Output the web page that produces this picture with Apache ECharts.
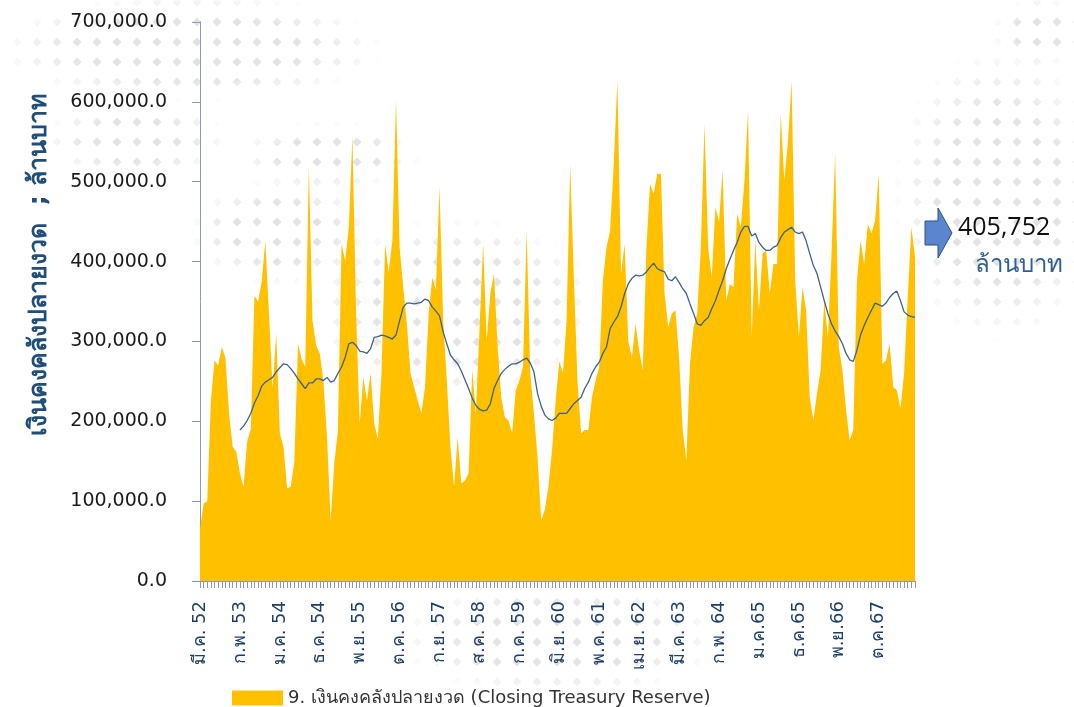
<!DOCTYPE html>
<html lang="th">
<head>
<meta charset="utf-8">
<title>เงินคงคลังปลายงวด</title>
<script src="https://cdn.jsdelivr.net/npm/echarts@6/dist/echarts.min.js"></script>
<style>
  html, body { margin: 0; padding: 0; background: #fff; }
  .wrap { position: relative; width: 1074px; height: 707px; }
  /* ลายจุดข้าวหลามตัดจาง ๆ ด้านหลัง */
  .dots {
    position: absolute; left: 0; top: 0; width: 1074px; height: 707px;
    background-image: url("data:image/svg+xml,%3Csvg xmlns='http://www.w3.org/2000/svg' width='20' height='20'%3E%3Cpolygon points='10,5.5 14.5,10 10,14.5 5.5,10' fill='%23E3E3E3'/%3E%3C/svg%3E");
    background-position: 7px -8px;
    --m1: radial-gradient(ellipse 200px 55px at 190px 48px, #000 55%, transparent 100%);
    --m2: radial-gradient(ellipse 95px 40px at 135px 140px, #000 50%, transparent 100%);
    --m3: radial-gradient(ellipse 95px 35px at 330px 155px, #000 50%, transparent 100%);
    --m4: radial-gradient(ellipse 95px 55px at 280px 232px, #000 50%, transparent 100%);
    --m5: radial-gradient(ellipse 150px 95px at 455px 310px, #000 55%, transparent 100%);
    --m6: radial-gradient(ellipse 170px 60px at 560px 638px, #000 50%, transparent 100%);
    --m7: radial-gradient(ellipse 110px 150px at 1000px 195px, #000 55%, transparent 100%);
    --m8: radial-gradient(ellipse 50px 35px at 1040px 32px, #000 50%, transparent 100%);
    -webkit-mask-image: var(--m1), var(--m2), var(--m3), var(--m4), var(--m5), var(--m6), var(--m7), var(--m8);
    mask-image: var(--m1), var(--m2), var(--m3), var(--m4), var(--m5), var(--m6), var(--m7), var(--m8);
  }
  #chart { position: absolute; left: 0; top: 0; width: 1074px; height: 707px; }
</style>
</head>
<body>
<div class="wrap">
  <div class="dots"></div>
  <div id="chart"></div>
</div>
<script>
// เดือน มี.ค. 52 ถึง ส.ค. 68 (รายเดือน)
const thaiMonths = ['ม.ค.', 'ก.พ.', 'มี.ค.', 'เม.ย.', 'พ.ค.', 'มิ.ย.', 'ก.ค.', 'ส.ค.', 'ก.ย.', 'ต.ค.', 'พ.ย.', 'ธ.ค.'];
const startMonth = 2;   // มี.ค.
const startYear = 52;
const monthCount = 198;

// ป้ายแกน x ที่แสดง (ทุก 11 เดือน)
const tickLabels = [
  'มี.ค. 52', 'ก.พ. 53', 'ม.ค. 54', 'ธ.ค. 54', 'พ.ย. 55', 'ต.ค. 56', 'ก.ย. 57', 'ส.ค. 58', 'ก.ค. 59',
  'มิ.ย. 60', 'พ.ค. 61', 'เม.ย. 62', 'มี.ค. 63', 'ก.พ. 64', 'ม.ค.65', 'ธ.ค.65', 'พ.ย.66', 'ต.ค.67'
];
const tickStep = 11;

// เงินคงคลังปลายงวด (ล้านบาท)
const closingReserve = [
  65000, 97000, 100000, 225000, 276000, 270000, 293000, 280000, 210000, 168000, 162000, 135000,
  118000, 175000, 190000, 357000, 350000, 375000, 426000, 335000, 241000, 310000, 185000, 168000,
  116000, 118000, 150000, 297000, 278000, 268000, 520000, 326000, 295000,
  285000, 250000, 180000, 76000, 147000, 189000, 422000, 401000, 443000, 557000, 335000, 197000,
  255000, 226000, 260000, 197000, 178000, 260000, 422000, 387000, 426000, 603000, 418000, 368000,
  322000, 260000, 243000, 226000, 210000, 243000, 335000, 380000, 365000,
  493000, 326000, 251000, 168000, 118000, 180000, 122000, 126000, 135000, 264000, 210000, 314000,
  422000, 301000, 360000, 385000, 293000, 230000, 205000, 201000, 185000, 239000, 251000, 268000,
  439000, 260000, 210000, 155000, 76000, 89000, 118000, 164000, 226000,
  275000, 260000, 326000, 522000, 380000, 251000, 185000, 189000, 189000, 230000, 251000, 268000,
  376000, 418000, 439000, 522000, 627000, 385000, 422000, 301000, 280000, 322000, 289000, 264000,
  418000, 497000, 485000, 510000, 510000, 360000, 318000, 335000, 339000, 280000,
  189000, 151000, 272000, 318000, 335000, 418000, 572000, 418000, 380000, 468000, 450000, 514000,
  351000, 372000, 368000, 460000, 443000, 501000, 589000, 305000, 426000, 339000, 410000, 414000,
  360000, 397000, 397000, 585000, 501000, 551000, 626000, 376000, 305000,
  368000, 339000, 230000, 201000, 235000, 264000, 351000, 305000, 410000, 535000, 293000, 264000,
  214000, 176000, 189000, 376000, 426000, 397000, 447000, 435000, 451000, 510000, 272000, 276000,
  297000, 243000, 239000, 216000, 260000, 355000, 443000, 405752
];

// ค่าเฉลี่ย 12 เดือน (อ่านจากภาพ, ล้านบาท)
const movingAvg = [
  null, null, null, null, null, null, null, null, null, null, null,
  189000, 194000, 201000, 210000, 223000, 232000, 244000, 249000, 252000, 255000, 262000,
  267000, 272000, 271000, 266000, 260000, 253000, 247000, 241000, 248000, 248000, 253000,
  253000, 251000, 255000, 249000, 251000, 260000, 268000, 280000, 297000, 299000, 295000,
  288000, 287000, 285000, 291000, 305000, 306000, 308000, 307000, 305000, 303000, 308000,
  326000, 343000, 348000, 348000, 347000, 348000, 349000, 353000, 351000, 343000, 338000,
  332000, 312000, 297000, 283000, 277000, 272000, 263000, 252000, 241000, 229000, 220000,
  215000, 213000, 214000, 222000, 241000, 251000, 260000, 265000, 269000, 272000, 272000,
  274000, 277000, 279000, 273000, 262000, 235000, 219000, 208000, 203000, 201000, 204000,
  210000, 210000, 210000, 216000, 222000, 226000, 230000, 241000, 249000, 260000, 268000,
  274000, 285000, 293000, 316000, 324000, 331000, 343000, 360000, 372000, 379000, 383000,
  382000, 383000, 387000, 393000, 398000, 391000, 389000, 387000, 378000, 376000, 381000, 374000,
  366000, 360000, 347000, 335000, 322000, 320000, 326000, 330000, 341000, 351000, 364000,
  376000, 391000, 403000, 414000, 424000, 437000, 444000, 444000, 432000, 435000, 424000,
  418000, 414000, 414000, 418000, 420000, 430000, 437000, 440000, 443000, 437000, 435000,
  437000, 426000, 410000, 395000, 385000, 368000, 351000, 335000, 322000, 313000, 306000,
  297000, 285000, 277000, 275000, 289000, 308000, 320000, 330000, 339000, 348000, 346000,
  344000, 348000, 355000, 360000, 363000, 351000, 337000, 333000, 331000, 330000
];

const seriesName = '9. เงินคงคลังปลายงวด (Closing Treasury Reserve)';
const axisTitle = 'เงินคงคลังปลายงวด  ; ล้านบาท';
const unitLabel = 'ล้านบาท';

const months = [];
for (let i = 0; i < monthCount; i++) {
  const m = (startMonth + i) % 12;
  const y = startYear + Math.floor((startMonth + i) / 12);
  months.push(thaiMonths[m] + ' ' + y);
}

const latest = closingReserve[closingReserve.length - 1];
const fontLatin = "'DejaVu Sans', 'Liberation Sans', sans-serif";
const axisColor = '#8E99AD';

const chart = echarts.init(document.getElementById('chart'), null, { renderer: 'canvas' });

const option = {
  backgroundColor: 'transparent',
  animation: false,
  grid: { left: 200, right: 159, top: 22, bottom: 126 },
  legend: {
    data: [seriesName],
    left: 227,
    top: 684,
    icon: 'rect',
    itemWidth: 51,
    itemHeight: 15,
    itemGap: 6,
    textStyle: { fontSize: 18, color: '#333', fontFamily: fontLatin }
  },
  xAxis: {
    type: 'category',
    data: months,
    boundaryGap: false,
    axisLine: { lineStyle: { color: axisColor, width: 1 } },
    axisTick: { show: true, interval: 0, length: 7, lineStyle: { color: axisColor } },
    axisLabel: {
      interval: tickStep - 1,
      rotate: 90,
      margin: 20,
      fontSize: 18,
      color: '#1F3F66',
      fontFamily: fontLatin,
      formatter: (value, index) => tickLabels[Math.round(index / tickStep)]
    },
    splitLine: { show: false }
  },
  yAxis: {
    type: 'value',
    min: 0,
    max: 700000,
    interval: 100000,
    axisLine: { show: true, lineStyle: { color: axisColor, width: 1 } },
    axisTick: { show: true, length: 8, lineStyle: { color: axisColor } },
    splitLine: { show: false },
    axisLabel: {
      margin: 33,
      fontSize: 19,
      color: '#1a1a1a',
      fontFamily: fontLatin,
      formatter: v => v.toLocaleString('en-US', { minimumFractionDigits: 1, maximumFractionDigits: 1 })
    }
  },
  series: [
    {
      name: seriesName,
      type: 'line',
      data: closingReserve,
      symbol: 'none',
      lineStyle: { width: 0, color: '#FFC000' },
      itemStyle: { color: '#FFC000' },
      areaStyle: { color: '#FFC000', opacity: 1 },
      z: 2
    },
    {
      name: 'ค่าเฉลี่ย 12 เดือน',
      type: 'line',
      data: movingAvg,
      symbol: 'none',
      connectNulls: false,
      lineStyle: { width: 1.3, color: '#3D6189' },
      itemStyle: { color: '#3D6189' },
      z: 3
    }
  ],
  graphic: [
    {
      type: 'text',
      x: 39,
      y: 265,
      rotation: Math.PI / 2,
      style: {
        text: axisTitle,
        fill: '#1F4E79',
        font: "bold 25px 'DejaVu Sans', sans-serif",
        align: 'center',
        verticalAlign: 'middle'
      }
    },
    {
      type: 'polygon',
      shape: { points: [[925, 221], [938, 221], [938, 208], [952, 233], [938, 258], [938, 245], [925, 245]] },
      style: { fill: '#5B86CF', stroke: '#2F4F80', lineWidth: 1 }
    },
    {
      type: 'text',
      x: 958,
      y: 228,
      style: {
        text: latest.toLocaleString('en-US'),
        fill: '#111',
        font: "25px 'Open Sans', sans-serif",
        align: 'left',
        verticalAlign: 'middle'
      }
    },
    {
      type: 'text',
      x: 975,
      y: 266,
      style: {
        text: unitLabel,
        fill: '#2F5F8F',
        font: "24px 'DejaVu Sans', sans-serif",
        align: 'left',
        verticalAlign: 'middle'
      }
    }
  ]
};

chart.setOption(option);
</script>
</body>
</html>
